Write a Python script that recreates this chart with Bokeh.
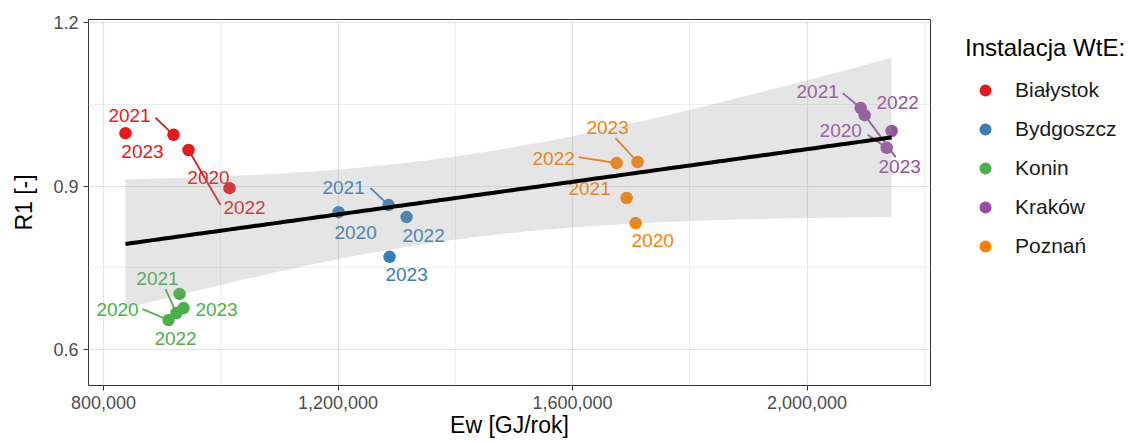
import numpy as np
from bokeh.plotting import figure
from bokeh.models import (ColumnDataSource, FixedTicker, NumeralTickFormatter,
                          Range1d, Legend, LegendItem)
from bokeh.layouts import row
from bokeh.embed import file_html
from bokeh.resources import INLINE
from bokeh.core.properties import value

# ---------------- data ----------------
cities = ["Białystok", "Bydgoszcz", "Konin", "Kraków", "Poznań"]
colors = ["#E41A1C", "#377EB8", "#4DAF4A", "#984EA3", "#FF7F00"]
years = ["2020", "2021", "2022", "2023"]

ew_bialystok = [1014900, 919400, 945000, 837500]
r1_bialystok = [0.896, 0.994, 0.966, 0.997]
ew_bydgoszcz = [1200900, 1286200, 1316900, 1287900]
r1_bydgoszcz = [0.852, 0.865, 0.843, 0.770]
ew_konin = [910900, 924500, 929700, 936500]
r1_konin = [0.654, 0.667, 0.702, 0.676]
ew_krakow = [2135800, 2091400, 2144200, 2098200]
r1_krakow = [0.970, 1.043, 1.001, 1.030]
ew_poznan = [1707600, 1692200, 1675200, 1710900]
r1_poznan = [0.832, 0.878, 0.942, 0.944]

ew_all = [ew_bialystok, ew_bydgoszcz, ew_konin, ew_krakow, ew_poznan]
r1_all = [r1_bialystok, r1_bydgoszcz, r1_konin, r1_krakow, r1_poznan]

x_ticks = [800000, 1200000, 1600000, 2000000]
x_minor = [1000000, 1400000, 1800000, 2200000]
y_ticks = [0.6, 0.9, 1.2]
y_minor = [0.75, 1.05]

# label placement (screen px offsets from point, y down) - layout only
N = np.nan
lab_dx = [[-21, -44, 56, 17], [17, -45, 17, 17], [-51, -19, -4, 33], [-46, -43, 6, 35], [17, -37, -63, -30]]
lab_dy = [[-11, -19, 57, 18], [20, -18, 18, 18], [-11, -35, 45, 1], [-17, -17, -28, 51], [17, -10, -5, -35]]
seg_sx = [[N, -18, 32, N], [N, -18, N, N], [-26, -11, N, N], [-19, -18, N, 31], [N, N, -38, -22]]
seg_sy = [[N, -17, 55, N], [N, -17, N, N], [-11, -24, N, N], [-13, -15, N, 42], [N, N, -6, -24]]

# ---------------- layout ----------------
W_TOTAL, H = 1129, 443
FL, FR, FT, FB = 88, 4, 19, 58
FW, FH = 842, 366
W_MAIN = FL + FW + FR
x0r, x1r = 774400, 2210500
y0r, y1r = 0.534, 1.2055
kx = (x1r - x0r) / FW      # data units per px
ky = (y1r - y0r) / FH

FONT = value("Liberation Sans")

p = figure(width=W_MAIN, height=H, x_range=Range1d(x0r, x1r), y_range=Range1d(y0r, y1r),
           min_border_left=FL, min_border_right=FR, min_border_top=FT, min_border_bottom=FB,
           output_backend="svg", toolbar_location=None, title=None,
           background_fill_color="white", border_fill_color="white")
p.outline_line_color = "#333333"
p.outline_line_width = 1

xt = FixedTicker(ticks=x_ticks, minor_ticks=x_minor)
yt = FixedTicker(ticks=y_ticks, minor_ticks=y_minor)
p.xaxis.ticker = xt
p.yaxis.ticker = yt
p.xgrid.ticker = xt
p.ygrid.ticker = yt
for g in (p.xgrid, p.ygrid):
    g.grid_line_color = "#E3E3E3"
    g.grid_line_width = 1.2
    g.minor_grid_line_color = "#ECECEC"
    g.minor_grid_line_width = 0.9

p.xaxis.formatter = NumeralTickFormatter(format="0,0")
p.yaxis.formatter = NumeralTickFormatter(format="0.0")
for ax in (p.xaxis, p.yaxis):
    ax.axis_line_color = None
    ax.major_tick_line_color = "#333333"
    ax.major_tick_out = 5
    ax.major_tick_in = 0
    ax.minor_tick_line_color = None
    ax.major_label_text_font = "Liberation Sans"
    ax.major_label_text_font_size = "18px"
    ax.major_label_text_color = "#4D4D4D"
    ax.axis_label_text_font = "Liberation Sans"
    ax.axis_label_text_font_style = "normal"
    ax.axis_label_text_color = "black"
p.xaxis.axis_label = "Ew [GJ/rok]"
p.yaxis.axis_label = "R1 [-]"
p.xaxis.axis_label_text_font_size = "23px"
p.yaxis.axis_label_text_font_size = "23px"
p.xaxis.major_label_standoff = 5
p.xaxis.axis_label_standoff = 0
p.yaxis.major_label_standoff = 5
p.yaxis.axis_label_standoff = 13

# points
for ci in range(len(cities)):
    p.scatter(x=ew_all[ci], y=r1_all[ci], size=12.5, fill_color=colors[ci],
              line_color=colors[ci], line_width=0)

# repel segments
for ci in range(len(cities)):
    x0s, y0s, x1s, y1s = [], [], [], []
    for yi in range(len(years)):
        sx, sy = seg_sx[ci][yi], seg_sy[ci][yi]
        if np.isnan(sx):
            continue
        px, py = ew_all[ci][yi], r1_all[ci][yi]
        L = np.hypot(sx, sy)
        ex, ey = sx * 4 / L, sy * 4 / L
        x0s.append(px + sx * kx); y0s.append(py - sy * ky)
        x1s.append(px + ex * kx); y1s.append(py - ey * ky)
    if x0s:
        p.segment(x0=x0s, y0=y0s, x1=x1s, y1=y1s, line_color=colors[ci], line_width=1.8)

# labels
for ci in range(len(cities)):
    src = ColumnDataSource(dict(x=ew_all[ci], y=r1_all[ci], t=years,
                                dx=lab_dx[ci], dy=lab_dy[ci]))
    p.text(x="x", y="y", text="t", x_offset="dx", y_offset="dy", source=src,
           text_color=colors[ci], text_font=FONT, text_font_size="19px",
           text_align="center", text_baseline="middle")

# linear fit + confidence band
xa = np.concatenate([np.array(v, float) for v in ew_all])
ya = np.concatenate([np.array(v, float) for v in r1_all])
n = len(xa)
b, a = np.polyfit(xa, ya, 1)
res = ya - (a + b * xa)
s = np.sqrt(np.sum(res ** 2) / (n - 2))
xbar = xa.mean()
sxx = np.sum((xa - xbar) ** 2)
T_MULT = 3.2  # band half-width multiplier (Student t quantile, 18 df)
xs = np.linspace(xa.min(), xa.max(), 120)
fit = a + b * xs
se = s * np.sqrt(1.0 / n + (xs - xbar) ** 2 / sxx)
p.varea(x=xs, y1=fit - T_MULT * se, y2=fit + T_MULT * se, fill_color="#999999", fill_alpha=0.26)
p.line(x=xs, y=fit, line_color="black", line_width=4)

# ---------------- legend panel ----------------
LEG_M = 15
p2 = figure(width=W_TOTAL - W_MAIN, height=H, x_range=Range1d(0, 1), y_range=Range1d(0, 1),
            x_axis_type=None, y_axis_type=None, title=None,
            min_border_left=31 - LEG_M, min_border_top=FT, min_border_right=0, min_border_bottom=0,
            output_backend="svg", toolbar_location=None,
            background_fill_color="white", border_fill_color="white")
p2.outline_line_color = None
items = []
for c, col in zip(cities, colors):
    r = p2.scatter(x=[-5], y=[-5], size=12, fill_color=col, line_color=col, line_width=0)
    items.append(LegendItem(label=c, renderers=[r]))
leg = Legend(items=items, location="top_left", title="Instalacja WtE:",
             margin=LEG_M, padding=0, spacing=9, glyph_width=40, glyph_height=30,
             label_height=30, label_standoff=10, title_standoff=13,
             border_line_color=None, background_fill_alpha=0,
             title_text_font="Liberation Sans", title_text_font_size="24px",
             title_text_font_style="normal", title_text_color="black",
             label_text_font="Liberation Sans", label_text_font_size="21px",
             label_text_color="#1A1A1A")
p2.add_layout(leg)

layout = row(p, p2)
open("out.html", "w").write(file_html(layout, INLINE))
